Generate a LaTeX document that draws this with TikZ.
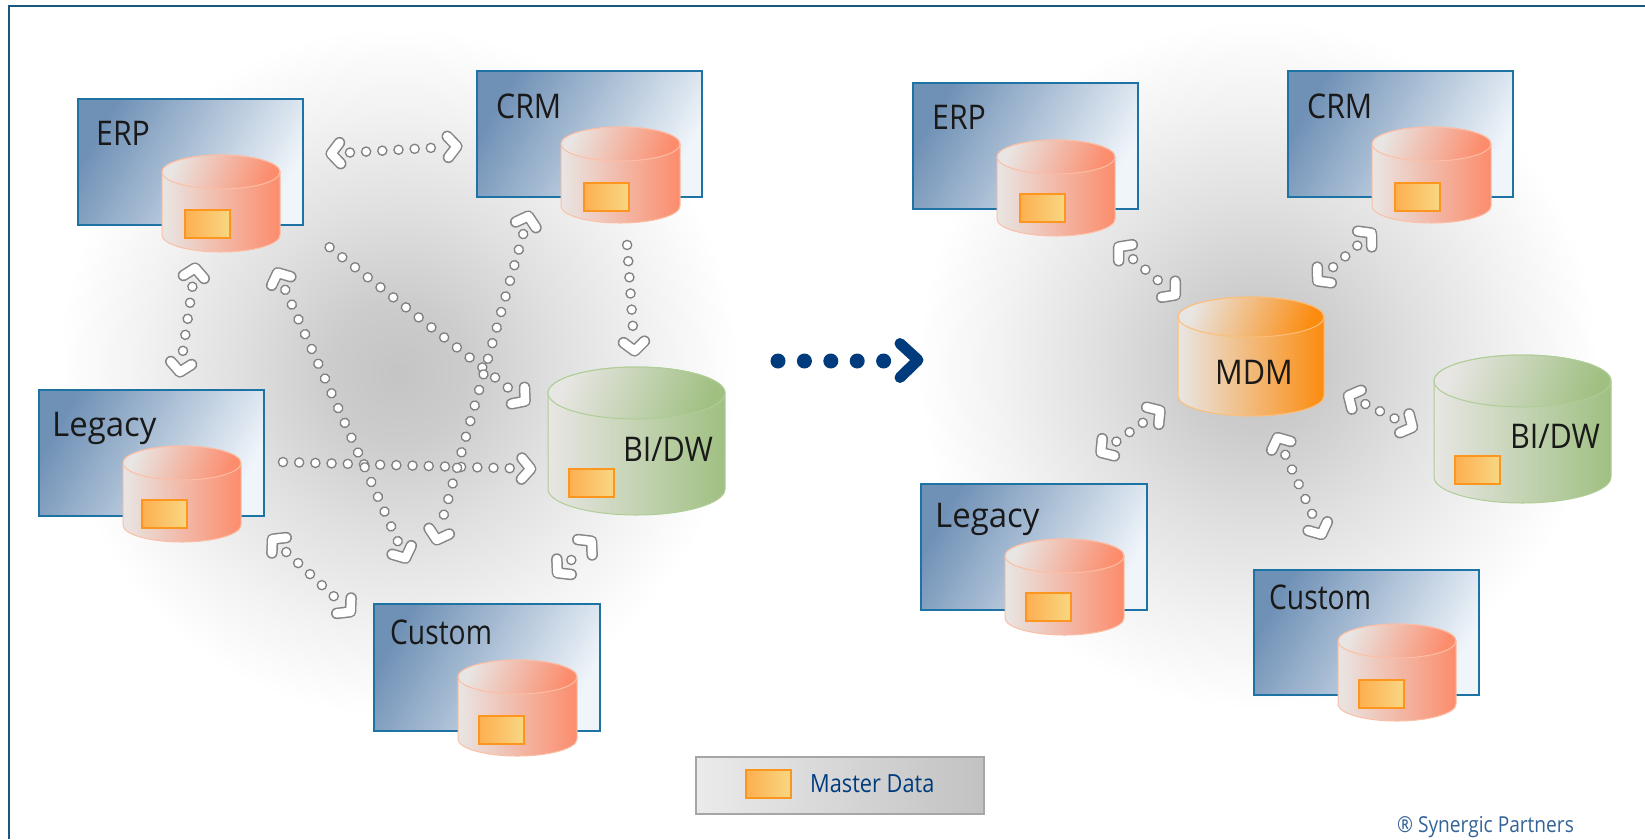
\documentclass[tikz,border=0pt]{standalone}
\usepackage{fontspec}
\setmainfont{Open Sans}
\usetikzlibrary{decorations.markings,shapes.geometric}
\definecolor{frameblue}{RGB}{25,88,125}
\definecolor{boxedge}{RGB}{30,115,165}
\definecolor{boxdark}{RGB}{112,145,182}
\definecolor{boxlight}{RGB}{240,245,250}
\definecolor{navy}{RGB}{0,60,125}
\definecolor{salmon}{RGB}{252,140,108}
\definecolor{salmonedge}{RGB}{252,190,165}
\definecolor{greenbody}{RGB}{160,192,130}
\definecolor{greenedge}{RGB}{175,205,150}
\definecolor{mdmorange}{RGB}{252,140,15}
\definecolor{mdmedge}{RGB}{252,190,120}
\definecolor{cylpale}{RGB}{232,230,228}
\definecolor{mdleft}{RGB}{253,175,80}
\definecolor{mdright}{RGB}{248,215,130}
\definecolor{mdedge}{RGB}{252,150,30}
\pgfdeclareradialshading{haze}{\pgfpoint{0pt}{0pt}}{
  color(0bp)=(black!23); color(5bp)=(black!20); color(12bp)=(black!12); color(19bp)=(black!5); color(25bp)=(white); color(50bp)=(white)}
\newcommand\chevronmark{%
  \draw[black!48,line width=11.5pt,line cap=round,line join=round] (-15,-10.5)--(-6,0)--(-15,10.5);
  \draw[white,line width=8.5pt,line cap=round,line join=round] (-15,-10.5)--(-6,0)--(-15,10.5);
}
\tikzset{
  x=1pt,y=-1pt,
  sysbox/.style={draw=boxedge,line width=1.6pt,left color=boxdark,right color=boxlight,shading angle=60,inner sep=0pt,anchor=north west},
  boxlabel/.style={anchor=base west,font=\fontsize{34}{34}\selectfont,text=black!90,inner sep=0pt},
  cyllabel/.style={font=\fontsize{34}{34}\selectfont,text=black!90,inner sep=0pt},
  mdsquare/.style={draw=mdedge,line width=1.6pt,left color=mdleft,right color=mdright,inner sep=0pt,minimum width=45pt,minimum height=28pt},
  dotmark/.style={fill=white,draw=black!50,line width=1.3pt},
  linkboth/.style={postaction={decorate},decoration={markings,
    mark=between positions 25pt and -25pt step 16.2pt with {\draw[dotmark] (0,0) circle[radius=4.6pt];},
    mark=at position 0.001 with {\begin{scope}[rotate=180]\chevronmark\end{scope}},
    mark=at position 0.999 with {\chevronmark}}},
  linkone/.style={postaction={decorate},decoration={markings,
    mark=between positions 2pt and -25pt step 16.2pt with {\draw[dotmark] (0,0) circle[radius=4.6pt];},
    mark=at position 0.999 with {\chevronmark}}},
}
% cylinder: left, top, width, height, ry, body colour, edge colour
\newcommand\dbcyl[7]{%
  \pgfmathsetmacro\cxa{#1}\pgfmathsetmacro\cxb{#1+#3}\pgfmathsetmacro\cmid{#1+#3/2}
  \pgfmathsetmacro\cya{#2+#5}\pgfmathsetmacro\cyb{#2+#4-#5}\pgfmathsetmacro\cbot{#2+#4}
  \pgfmathsetmacro\kx{.55*#3/2}\pgfmathsetmacro\ky{.55*#5}
  \path[draw=#7,line width=1pt,left color=cylpale,right color=#6]
    (\cxa,\cya) -- (\cxa,\cyb)
    .. controls (\cxa,\cyb+\ky) and (\cmid-\kx,\cbot) .. (\cmid,\cbot)
    .. controls (\cmid+\kx,\cbot) and (\cxb,\cyb+\ky) .. (\cxb,\cyb) -- (\cxb,\cya)
    .. controls (\cxb,\cya-\ky) and (\cmid+\kx,#2) .. (\cmid,#2)
    .. controls (\cmid-\kx,#2) and (\cxa,\cya-\ky) .. (\cxa,\cya) -- cycle;
  \path[draw=#7,line width=1pt,left color=cylpale,middle color=cylpale,right color=#6,shading angle=70]
    (\cxa,\cya)
    .. controls (\cxa,\cya+\ky) and (\cmid-\kx,\cya+#5) .. (\cmid,\cya+#5)
    .. controls (\cmid+\kx,\cya+#5) and (\cxb,\cya+\ky) .. (\cxb,\cya)
    .. controls (\cxb,\cya-\ky) and (\cmid+\kx,#2) .. (\cmid,#2)
    .. controls (\cmid-\kx,#2) and (\cxa,\cya-\ky) .. (\cxa,\cya) -- cycle;
}
\begin{document}
\begin{tikzpicture}
\useasboundingbox (0,0) rectangle (1645,839);
\fill[white] (0,0) rectangle (1645,839);
% haze
\path[shading=haze] (398,372) ellipse[x radius=340pt,y radius=345pt];
\path[shading=haze] (1258,365) ellipse[x radius=340pt,y radius=345pt];
% frame
\draw[frameblue,line width=2pt] (8.5,839) -- (8.5,5.5) -- (1645,5.5);

% left systems
\node[sysbox,minimum width=225pt,minimum height=126pt] (erpA) at (77,98) {};
\node[boxlabel,xscale=.89] (erpAl) at (96,145) {ERP};
\dbcyl{162}{155}{118}{97}{17}{salmon}{salmonedge}
\node[mdsquare,anchor=north west] (erpAm) at (184,209) {};

\node[sysbox,minimum width=225pt,minimum height=126pt] (crmA) at (476,70) {};
\node[boxlabel,xscale=.89] (crmAl) at (496,118) {CRM};
\dbcyl{561}{127}{119}{96}{17}{salmon}{salmonedge}
\node[mdsquare,anchor=north west] (crmAm) at (583,182) {};

\node[sysbox,minimum width=225pt,minimum height=126pt] (legA) at (38,389) {};
\node[boxlabel,xscale=.97] (legAl) at (52,436) {Legacy};
\dbcyl{123}{446}{118}{96}{17}{salmon}{salmonedge}
\node[mdsquare,anchor=north west] (legAm) at (141,499) {};

\node[sysbox,minimum width=226pt,minimum height=127pt] (cusA) at (373,603) {};
\node[boxlabel,xscale=.83] (cusAl) at (390,644) {Custom};
\dbcyl{458}{660}{119}{96}{17}{salmon}{salmonedge}
\node[mdsquare,anchor=north west] (cusAm) at (478,715) {};

\dbcyl{548}{367}{177}{148}{26}{greenbody}{greenedge}
\node[mdsquare,anchor=north west] (biAm) at (568,468) {};
\node[cyllabel,xscale=.9] (biAl) at (668,449) {BI/DW};

% right systems
\node[sysbox,minimum width=225pt,minimum height=126pt] (erpB) at (912,82) {};
\node[boxlabel,xscale=.89] (erpBl) at (932,129) {ERP};
\dbcyl{997}{140}{118}{96}{17}{salmon}{salmonedge}
\node[mdsquare,anchor=north west] (erpBm) at (1019,193) {};

\node[sysbox,minimum width=225pt,minimum height=126pt] (crmB) at (1287,70) {};
\node[boxlabel,xscale=.89] (crmBl) at (1307,118) {CRM};
\dbcyl{1372}{127}{119}{96}{17}{salmon}{salmonedge}
\node[mdsquare,anchor=north west] (crmBm) at (1394,182) {};

\node[sysbox,minimum width=226pt,minimum height=126pt] (legB) at (920,483) {};
\node[boxlabel,xscale=.97] (legBl) at (935,527) {Legacy};
\dbcyl{1005}{539}{119}{96}{17}{salmon}{salmonedge}
\node[mdsquare,anchor=north west] (legBm) at (1025,592) {};

\node[sysbox,minimum width=225pt,minimum height=125pt] (cusB) at (1253,569) {};
\node[boxlabel,xscale=.83] (cusBl) at (1269,609) {Custom};
\dbcyl{1338}{624}{118}{97}{17}{salmon}{salmonedge}
\node[mdsquare,anchor=north west] (cusBm) at (1358,679) {};

\dbcyl{1434}{355}{177}{148}{26}{greenbody}{greenedge}
\node[mdsquare,anchor=north west] (biBm) at (1454,455) {};
\node[cyllabel,xscale=.9] (biBl) at (1555,436) {BI/DW};

\dbcyl{1178}{297}{146}{119}{20}{mdmorange}{mdmedge}
\node[cyllabel,xscale=.9] (mdm) at (1254,372) {MDM};

% connector ends, left
\coordinate (a1) at (325,154); \coordinate (a2) at (463,146);
\coordinate (b1) at (196,262); \coordinate (b2) at (179,378);
\coordinate (c1) at (627,243); \coordinate (c2) at (635,357);
\coordinate (d1) at (328,246); \coordinate (d2) at (530,405);
\coordinate (e1) at (281,462); \coordinate (e2) at (537,469);
\coordinate (f1) at (275,267); \coordinate (f2) at (408,564);
\coordinate (g1) at (530,210); \coordinate (g2) at (435,546);
\coordinate (h1) at (553,577); \coordinate (h2) at (596,537);
\coordinate (i1) at (268,535); \coordinate (i2) at (355,616);
\path[linkboth] (a1) -- (a2);
\path[linkboth] (b1) -- (b2);
\path[linkone] (c1) -- (c2);
\path[linkone] (d1) -- (d2);
\path[linkone] (e1) -- (e2);
\path[linkboth] (f1) -- (f2);
\path[linkboth] (g1) -- (g2);
\path[linkboth] (h1) -- (h2);
\path[linkboth] (i1) -- (i2);
% connector ends, right
\coordinate (j1) at (1114,243); \coordinate (j2) at (1180,299);
\coordinate (k1) at (1376,229); \coordinate (k2) at (1313,285);
\coordinate (l1) at (1096,456); \coordinate (l2) at (1165,407);
\coordinate (m1) at (1275,432); \coordinate (m2) at (1324,540);
\coordinate (n1) at (1343,393); \coordinate (n2) at (1418,430);
\path[linkboth] (j1) -- (j2);
\path[linkboth] (k1) -- (k2);
\path[linkboth] (l1) -- (l2);
\path[linkboth] (m1) -- (m2);
\path[linkboth] (n1) -- (n2);

% big arrow
\coordinate (big1) at (778,361); \coordinate (big2) at (918,360);
\draw[navy,line width=15pt,line cap=round,dash pattern=on 0pt off 26.4pt] (big1) -- (885,361);
\draw[navy,line width=11pt,line cap=round,line join=round] (900,343.5) -- (big2) -- (900,377.5);

% legend
\node[draw=black!35,line width=1.6pt,left color=black!8,right color=black!24,minimum width=288pt,minimum height=57pt,anchor=north west,inner sep=0pt] (legend) at (695,756) {};
\node[mdsquare,anchor=north west] (legendm) at (745,769) {};
\node[anchor=base west,inner sep=0pt,text=navy,font=\fontsize{25}{25}\selectfont,xscale=.87] (legendt) at (810,792) {Master Data};
\node[anchor=base west,inner sep=0pt,text=navy!80!white,font=\fontsize{22}{22}\selectfont,xscale=.87] (copy) at (1397,832) {® Synergic Partners};
\end{tikzpicture}
\end{document}
